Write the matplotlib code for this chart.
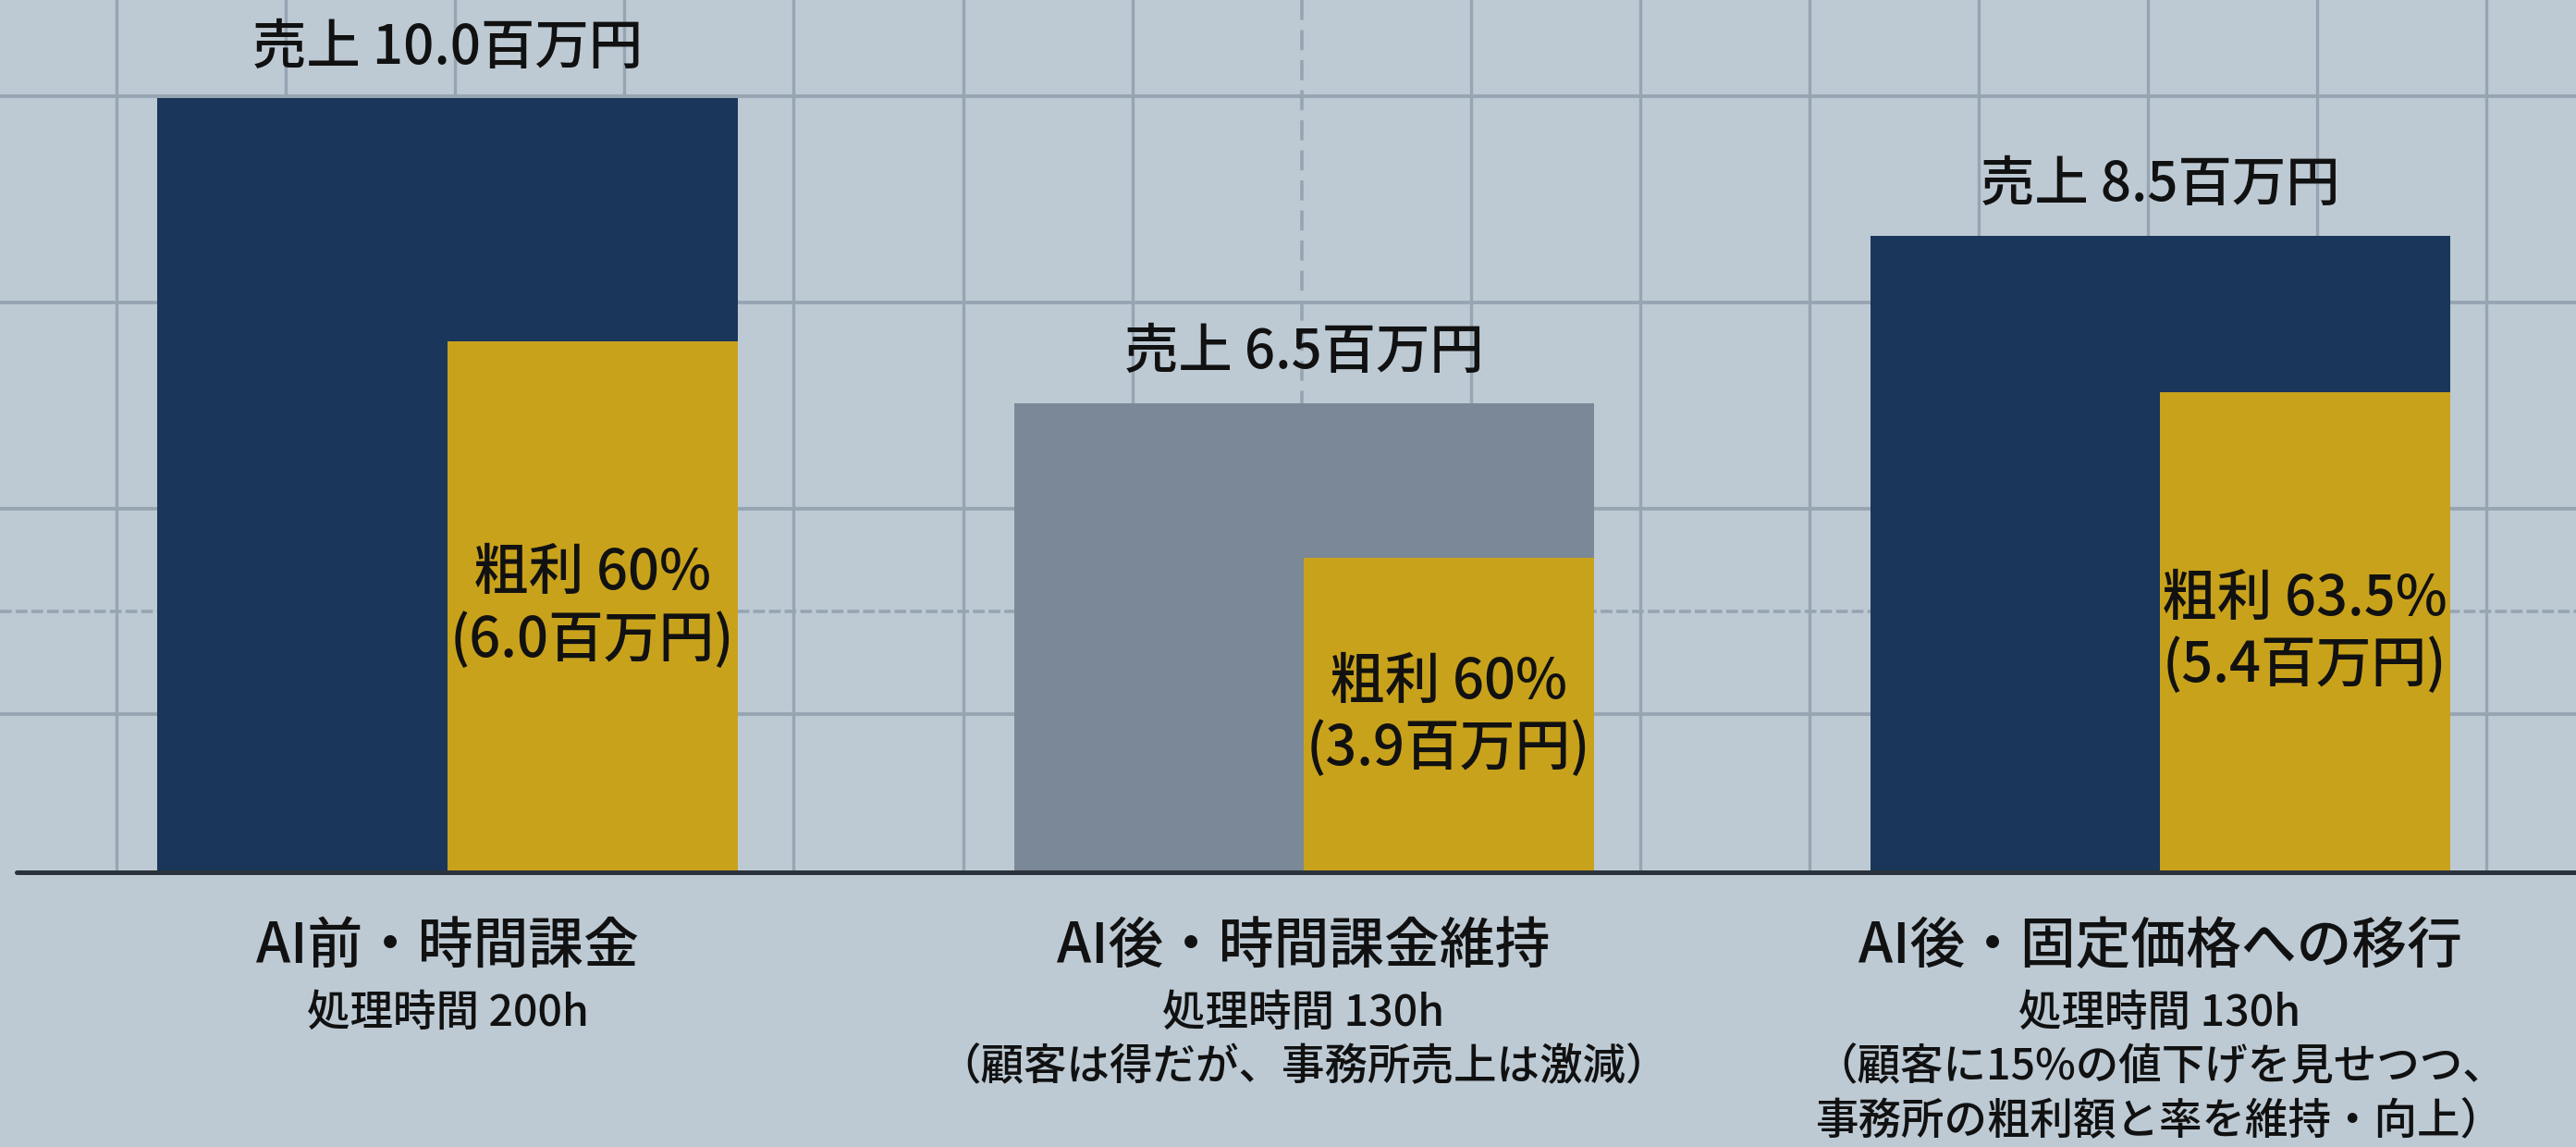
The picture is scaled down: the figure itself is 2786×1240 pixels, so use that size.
import matplotlib
matplotlib.use("Agg")
import matplotlib.pyplot as plt
import numpy as np

plt.rcParams['font.family'] = ['Noto Sans CJK JP', 'DejaVu Sans']

# ---- data ----
categories = ["AI前・時間課金", "AI後・時間課金維持", "AI後・固定価格への移行"]
sublabels = [
    ["処理時間 200h"],
    ["処理時間 130h", "（顧客は得だが、事務所売上は激減）"],
    ["処理時間 130h", "（顧客に15%の値下げを見せつつ、", "事務所の粗利額と率を維持・向上）"],
]
revenue_labels = ["売上 10.0百万円", "売上 6.5百万円", "売上 8.5百万円"]
profit_labels = [["粗利 60%", "(6.0百万円)"], ["粗利 60%", "(3.9百万円)"], ["粗利 63.5%", "(5.4百万円)"]]
# bar heights as drawn in the picture (same scale for all bars)
revenue_heights = [10.0, 6.06, 8.22]
profit_heights = [6.86, 4.06, 6.20]

# ---- style ----
BG = "#bdcad4"
GRID = "#97a5b3"
NAVY = "#1a365a"
GRAY = "#7a8898"
YELLOW = "#c9a21c"
TXT = "#111111"
FW = "medium"
revenue_colors = [NAVY, GRAY, NAVY]

W, H = 2786, 1240
fig = plt.figure(figsize=(W / 100, H / 100), dpi=100)
fig.patch.set_facecolor(BG)

# background grid axes in pixel coordinates
axg = fig.add_axes([0, 0, 1, 1])
axg.set_xlim(0, W)
axg.set_ylim(H, 0)
axg.axis("off")
base_y = 943
for k in range(15):
    x = 126 + 183.1 * k
    if k == 7:
        axg.plot([x, x], [0, base_y], color=GRID, lw=2.6, ls=(0, (6, 3)), zorder=1)
    else:
        axg.plot([x, x], [0, base_y], color=GRID, lw=2.4, zorder=1)
for y in [104, 327, 550, 772]:
    axg.plot([0, W], [y, y], color=GRID, lw=2.8, zorder=1)
axg.plot([0, W], [661, 661], color=GRID, lw=2.6, ls=(0, (3.5, 1.2)), zorder=1)

# main data axes
ax = fig.add_axes([0, 0, 1, 1])
ax.patch.set_alpha(0)
px_x = 926.0
x0 = 484.0
px_y = 83.7
ax.set_xlim(-x0 / px_x, (W - x0) / px_x)
ax.set_ylim(-(H - base_y) / px_y, base_y / px_y)
ax.axis("off")

xs = np.arange(len(categories))
bw = 627 / px_x
ax.bar(xs, revenue_heights, width=bw, color=revenue_colors, zorder=3)
ax.bar(xs, profit_heights, width=bw / 2, align="edge", color=YELLOW, zorder=4)

# baseline
ax.plot([(18 - x0) / px_x, (W - x0) / px_x], [0, 0], color="#2a333c", lw=3.6, zorder=5,
        solid_capstyle="round")

for i, x in enumerate(xs):
    ax.annotate(revenue_labels[i], (x, revenue_heights[i]), xytext=(0, 54),
                textcoords="offset pixels", ha="center", va="center",
                fontsize=42, fontweight=FW, color=TXT, zorder=6)
    yc = profit_heights[i] / 2
    xc = x + bw / 4
    for j, line in enumerate(profit_labels[i]):
        ax.annotate(line, (xc, yc), xytext=(0, 36 - 72 * j),
                    textcoords="offset pixels", ha="center", va="center",
                    fontsize=43, fontweight=FW, color=TXT, zorder=6)
    ax.annotate(categories[i], (x, 0), xytext=(0, -80),
                textcoords="offset pixels", ha="center", va="center",
                fontsize=43, fontweight=FW, color=TXT, zorder=6)
    for j, line in enumerate(sublabels[i]):
        ax.annotate(line, (x, 0), xytext=(0, -152 - 59 * j),
                    textcoords="offset pixels", ha="center", va="center",
                    fontsize=33.5, fontweight=FW, color=TXT, zorder=6)

fig.savefig("out.png", dpi=100, facecolor=BG)
